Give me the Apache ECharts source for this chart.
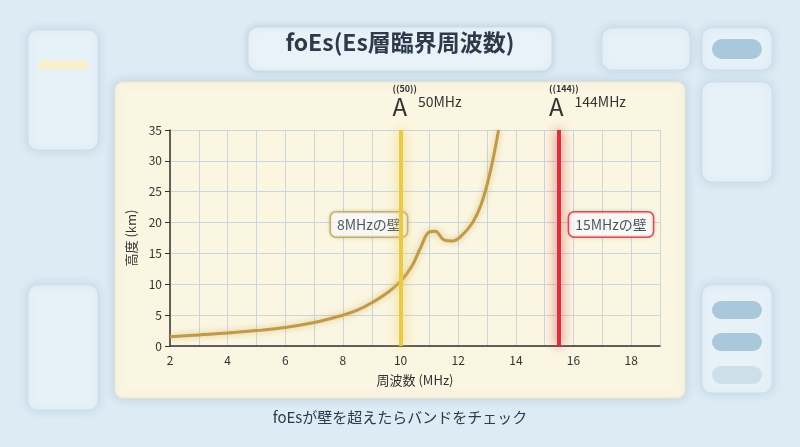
<!DOCTYPE html>
<html>
<head>
<meta charset="utf-8">
<script src="https://cdn.jsdelivr.net/npm/echarts@6/dist/echarts.min.js"></script>
<style>
  html, body { margin: 0; padding: 0; background: #dcebf4; }
  #chart { width: 800px; height: 447px; }
</style>
</head>
<body>
<div id="chart"></div>
<script>
// foEs curve: frequency (MHz) vs height (km)
const freq = [2, 3, 4, 5, 6, 7, 8, 8.5, 9, 9.5, 10, 10.4, 10.7, 11, 11.2, 11.5, 11.8, 12.1, 12.5, 12.8, 13.1, 13.4];
const height = [1.5, 1.8, 2.1, 2.5, 3.0, 3.8, 5.0, 5.8, 7.0, 8.5, 10.5, 13.0, 16.0, 18.5, 18.6, 17.2, 17.0, 17.8, 20.0, 23.0, 28.0, 35.0];
const walls = [
    { x: 10, band: '50', name: '50MHz', color: '#e8c94a', label: '8MHzの壁', labelX: 8.9, labelY: 19.7 },
    { x: 15.5, band: '144', name: '144MHz', color: '#d9303a', label: '15MHzの壁', labelX: 17.3, labelY: 19.7 }
];
const xTicks = [2, 4, 6, 8, 10, 12, 14, 16, 18];

const chart = echarts.init(document.getElementById('chart'));
const font = '"Noto Sans CJK JP", "Noto Sans", sans-serif';

function card(x, y, w, h) {
    return {
        type: 'rect', z: -10,
        shape: { x, y, width: w, height: h, r: 10 },
        style: { fill: '#e6f1f8', stroke: '#cfe0eb', lineWidth: 1, shadowBlur: 8, shadowColor: 'rgba(120,150,180,0.25)' }
    };
}

chart.setOption({
    backgroundColor: '#dcebf4',
    textStyle: { fontFamily: font },
    graphic: [
        card(28, 30, 70, 120), card(28, 285, 70, 125),
        card(602, 28, 88, 42), card(702, 28, 70, 42),
        card(702, 82, 70, 100), card(702, 285, 70, 108),
        { type: 'rect', z: -9, shape: { x: 38, y: 60, width: 50, height: 10, r: 4 }, style: { fill: '#f7efcf' } },
        { type: 'rect', z: -9, shape: { x: 712, y: 39, width: 50, height: 20, r: 10 }, style: { fill: '#a9c8dc' } },
        { type: 'rect', z: -9, shape: { x: 712, y: 301, width: 50, height: 18, r: 9 }, style: { fill: '#a9c8dc' } },
        { type: 'rect', z: -9, shape: { x: 712, y: 333, width: 50, height: 18, r: 9 }, style: { fill: '#a9c8dc' } },
        { type: 'rect', z: -9, shape: { x: 712, y: 366, width: 50, height: 18, r: 9 }, style: { fill: '#cfdfea' } },
        {
            type: 'rect', z: -8,
            shape: { x: 115, y: 82, width: 570, height: 316, r: 8 },
            style: { fill: '#fbf6e2', stroke: '#efe6c6', lineWidth: 1, shadowBlur: 10, shadowColor: 'rgba(120,150,180,0.3)' }
        },
        {
            type: 'rect', z: -8,
            shape: { x: 248, y: 27, width: 304, height: 44, r: 10 },
            style: { fill: '#e9f2f8', stroke: '#cbdce8', lineWidth: 1, shadowBlur: 6, shadowColor: 'rgba(120,150,180,0.3)' }
        },
        {
            type: 'text', left: 'center', top: 31,
            style: { text: 'foEs(Es層臨界周波数)', font: 'bold 23px ' + font, fill: '#2c3a4a' }
        },
        {
            type: 'text', left: 'center', top: 410,
            style: { text: 'foEsが壁を超えたらバンドをチェック', font: '15px ' + font, fill: '#2c3a4a' }
        }
    ],
    grid: { left: 170, right: 140, top: 130, bottom: 101 },
    xAxis: {
        type: 'value', min: 2, max: 19, interval: 1,
        name: '周波数 (MHz)', nameLocation: 'middle', nameGap: 28,
        nameTextStyle: { fontSize: 13, color: '#333' },
        axisLine: { lineStyle: { color: '#333', width: 1.5 } },
        axisTick: { show: false },
        axisLabel: {
            color: '#333', fontSize: 12,
            formatter: v => xTicks.includes(v) ? String(v) : ''
        },
        splitLine: { lineStyle: { color: '#c9d6dc' } }
    },
    yAxis: {
        type: 'value', min: 0, max: 35, interval: 5,
        name: '高度 (km)', nameLocation: 'middle', nameGap: 28, nameRotate: 90,
        nameTextStyle: { fontSize: 13, color: '#333' },
        axisLine: { show: true, lineStyle: { color: '#333', width: 1.5 } },
        axisLabel: { color: '#333', fontSize: 12 },
        splitLine: { lineStyle: { color: '#c9d6dc' } }
    },
    series: [
        {
            type: 'line', smooth: 0.4, showSymbol: false,
            data: freq.map((f, i) => [f, height[i]]),
            lineStyle: { color: '#bf9a48', width: 3, shadowBlur: 6, shadowColor: 'rgba(200,160,60,0.6)' },
            markLine: {
                symbol: 'none', silent: true,
                data: walls.map(w => ({
                    xAxis: w.x,
                    lineStyle: { color: w.color, width: 4, type: 'solid', shadowBlur: 12, shadowColor: w.color },
                    label: {
                        show: true, position: 'end', distance: 10,
                        formatter: '{s|((' + w.band + '))}\n{a|A}    {n|' + w.name + '}',
                        rich: {
                            s: { fontSize: 9, color: '#333', fontWeight: 'bold', lineHeight: 10 },
                            a: { fontSize: 24, color: '#333', lineHeight: 26 },
                            n: { fontSize: 14, color: '#333', padding: [0, 0, 10, 0] }
                        },
                        align: 'left', offset: [w.band.length === 2 ? -8 : -10, 0]
                    }
                }))
            }
        },
        {
            type: 'scatter', symbolSize: 0, silent: true,
            data: walls.map(w => ({
                value: [w.labelX, w.labelY],
                label: {
                    show: true, formatter: w.label, position: 'inside',
                    fontSize: 14, color: '#1f2a36',
                    backgroundColor: '#ffffff', borderColor: w.x > 12 ? '#d9303a' : '#c9a94e',
                    borderWidth: 1.5, borderRadius: 5, padding: [5, 6],
                    shadowBlur: 4, shadowColor: 'rgba(0,0,0,0.15)'
                }
            }))
        }
    ]
});
</script>
</body>
</html>
